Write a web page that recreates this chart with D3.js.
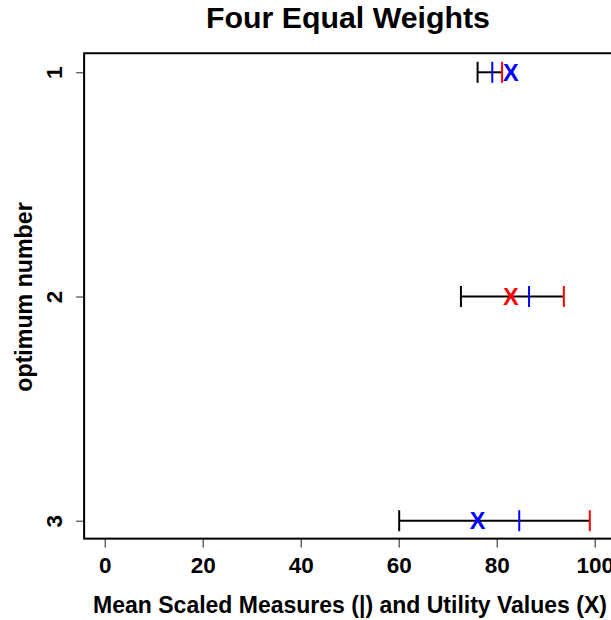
<!DOCTYPE html>
<html>
<head>
    <title>Four Equal Weights</title>
    <script src="https://cdn.jsdelivr.net/npm/d3@7"></script>
    <style>
        body {
            margin: 0;
            font-family: "Liberation Sans", Arial, sans-serif;
            background: #fff;
        }
        text {
            font-weight: bold;
            fill: #000;
        }
    </style>
</head>
<body>
    <svg width="611" height="620" id="mainsvg" style="display: block;"></svg>
    <script>
        // optimum numbers and values
        const optima = [1, 2, 3];
        const lowMeasure = [76.1, 72.7, 60.1];     // black tick
        const midMeasure = [79.1, 86.6, 84.6];     // blue tick
        const highMeasure = [81.1, 93.7, 99.0];    // red tick
        const utilityValues = [82.9, 82.9, 76.1];  // X marker
        const utilityColors = ['blue', 'red', 'blue'];
        const xTickValues = [0, 20, 40, 60, 80, 100];

        const svg = d3.select('#mainsvg');

        const xScale = d3.scaleLinear()
            .domain([0, 100])
            .range([104.7, 594.7]);

        const yScale = d3.scaleLinear()
            .domain([1, 3])
            .range([72.3, 520.7]);

        const boxLeft = xScale(-4.2);
        const boxRight = xScale(109.6);
        const boxTop = yScale(0.915);
        const boxBottom = yScale(3.08);

        // Axes
        const xAxis = d3.axisBottom(xScale)
            .tickValues(xTickValues)
            .tickSize(9)
            .tickPadding(9);

        const xg = svg.append('g')
            .attr('transform', `translate(0, ${boxBottom})`)
            .call(xAxis);
        xg.select('.domain').remove();
        xg.selectAll('line').attr('stroke', '#222');
        xg.selectAll('text')
            .attr('font-size', 22.5)
            .attr('font-family', '"Liberation Sans", Arial, sans-serif');

        const yAxis = d3.axisLeft(yScale)
            .tickValues(optima)
            .tickSize(8)
            .tickFormat(d3.format('d'));

        const yg = svg.append('g')
            .attr('transform', `translate(${boxLeft}, 0)`)
            .call(yAxis);
        yg.select('.domain').remove();
        yg.selectAll('line').attr('stroke', '#222');
        yg.selectAll('text')
            .attr('font-size', 22.5)
            .attr('font-family', '"Liberation Sans", Arial, sans-serif')
            .attr('transform', 'rotate(-90)')
            .attr('x', 0)
            .attr('y', -22.6)
            .attr('dy', null)
            .attr('text-anchor', 'middle');

        // Plot box
        svg.append('rect')
            .attr('x', boxLeft)
            .attr('y', boxTop)
            .attr('width', boxRight - boxLeft)
            .attr('height', boxBottom - boxTop)
            .attr('fill', 'none')
            .attr('stroke', '#000')
            .attr('stroke-width', 2);

        const rows = optima.map((o, i) => ({
            opt: o,
            low: lowMeasure[i],
            mid: midMeasure[i],
            high: highMeasure[i],
            util: utilityValues[i],
            color: utilityColors[i]
        }));

        const tickHalf = 10.5;
        const rowG = svg.append('g');

        // range lines
        rowG.selectAll('line.range')
            .data(rows)
            .enter()
            .append('line')
                .attr('class', 'range')
                .attr('x1', d => xScale(d.low))
                .attr('x2', d => xScale(d.high))
                .attr('y1', d => yScale(d.opt))
                .attr('y2', d => yScale(d.opt))
                .attr('stroke', '#000')
                .attr('stroke-width', 2);

        // measure ticks
        const tickSpecs = [
            { key: 'low', color: '#000' },
            { key: 'mid', color: 'blue' },
            { key: 'high', color: 'red' }
        ];
        tickSpecs.forEach(spec => {
            rowG.selectAll('line.t-' + spec.key)
                .data(rows)
                .enter()
                .append('line')
                    .attr('class', 't-' + spec.key)
                    .attr('x1', d => xScale(d[spec.key]))
                    .attr('x2', d => xScale(d[spec.key]))
                    .attr('y1', d => yScale(d.opt) - tickHalf)
                    .attr('y2', d => yScale(d.opt) + tickHalf)
                    .attr('stroke', spec.color)
                    .attr('stroke-width', 2);
        });

        // utility markers
        rowG.selectAll('text.util')
            .data(rows)
            .enter()
            .append('text')
                .attr('class', 'util')
                .attr('x', d => xScale(d.util))
                .attr('y', d => yScale(d.opt))
                .attr('dy', '0.36em')
                .attr('text-anchor', 'middle')
                .attr('font-size', 23.5)
                .style('fill', d => d.color)
                .text('X');

        // Title and axis labels
        svg.append('text')
            .attr('x', 348)
            .attr('y', 28)
            .attr('text-anchor', 'middle')
            .attr('font-size', 30.3)
            .text('Four Equal Weights');

        svg.append('text')
            .attr('x', 350)
            .attr('y', 613)
            .attr('text-anchor', 'middle')
            .attr('font-size', 23)
            .text('Mean Scaled Measures (|) and Utility Values (X)');

        svg.append('text')
            .attr('transform', 'rotate(-90)')
            .attr('x', -297)
            .attr('y', 32)
            .attr('text-anchor', 'middle')
            .attr('font-size', 23.2)
            .text('optimum number');
    </script>
</body>
</html>
